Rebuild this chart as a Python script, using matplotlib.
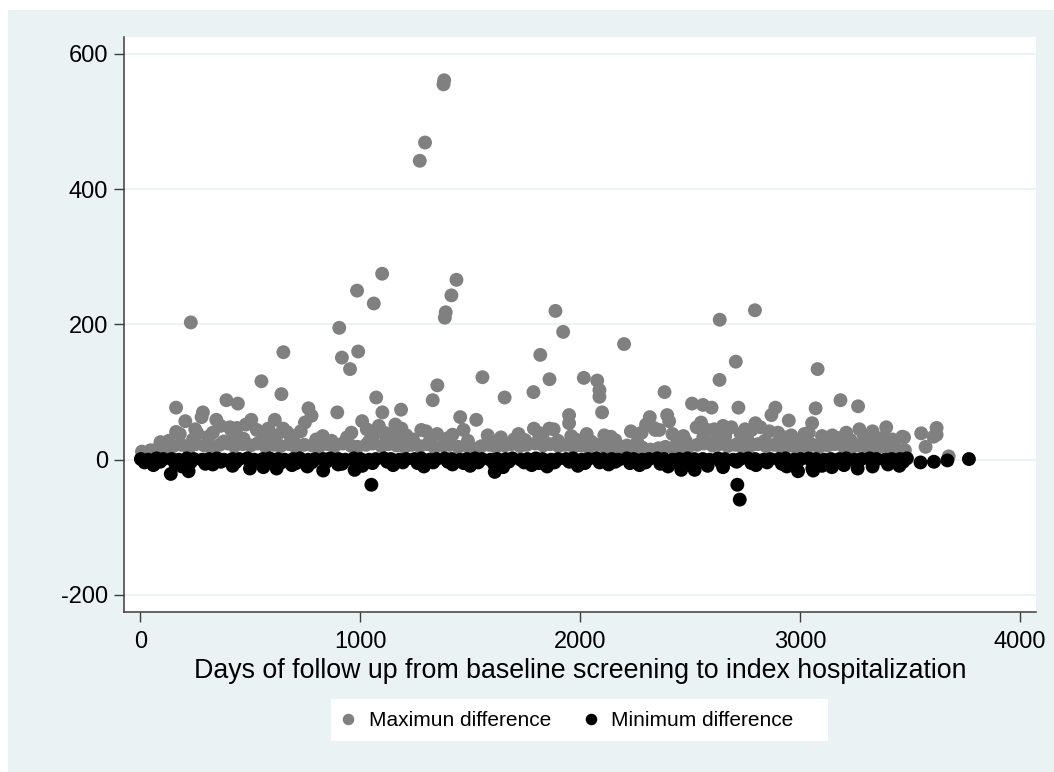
import matplotlib
matplotlib.use("Agg")
import matplotlib.pyplot as plt
from matplotlib.lines import Line2D
from matplotlib.patches import Rectangle

plt.rcParams['font.family'] = ['Liberation Sans', 'DejaVu Sans']
plt.rcParams['axes.unicode_minus'] = False

# ---------------- data ----------------
# Maximum difference: dense band
max_band_days = [8, 47, 79, 118, 149, 188, 221, 253, 292, 324,
                 361, 397, 428, 466, 502, 533, 571, 607, 638, 677,
                 709, 746, 782, 813, 852, 884, 921, 957, 988, 1027,
                 1058, 1097, 1129, 1166, 1202, 1233, 1271, 1306, 1338, 1377,
                 1408, 1446, 1482, 1513, 1551, 1587, 1618, 1657, 1688, 1727,
                 1758, 1796, 1832, 1863, 1902, 1933, 1971, 2007, 2038, 2077,
                 2108, 2146, 2182, 2213, 2252, 2283, 2321, 2357, 2388, 2427,
                 2458, 2496, 2532, 2563, 2602, 2633, 2671, 2707, 2738, 2777,
                 2808, 2846, 2882, 2913, 2952, 2983, 3021, 3057, 3088, 3127,
                 3158, 3196, 3232, 3263, 3302, 3333, 3371, 3407, 3438, 3477]
max_band_diff = [12, 14, 16, 18, 20, 22, 17, 23, 21, 19,
                 22, 24, 20, 23, 21, 24, 19, 22, 20, 23,
                 18, 22, 21, 19, 23, 20, 24, 21, 19, 22,
                 24, 20, 23, 21, 19, 22, 20, 23, 18, 21,
                 22, 19, 21, 17, 20, 22, 19, 21, 23, 20,
                 22, 24, 21, 23, 20, 22, 19, 21, 18, 22,
                 20, 17, 19, 21, 16, 18, 15, 17, 19, 16,
                 18, 20, 22, 24, 21, 23, 20, 22, 19, 21,
                 23, 20, 22, 19, 21, 18, 20, 22, 19, 21,
                 23, 20, 18, 21, 19, 17, 20, 18, 16, 14]
max_upper_days = [130, 240, 310, 380, 470, 560, 620, 700, 800, 870,
                  940, 1040, 1120, 1180, 1240, 1320, 1400, 1490, 1600, 1700,
                  1750, 1830, 1900, 1980, 2050, 2160, 2260, 2440, 2480, 2560,
                  2620, 2660, 2760, 2840, 2930, 3000, 3110, 3180, 3230, 3310,
                  3420]
max_upper_diff = [28, 30, 34, 27, 31, 29, 35, 26, 30, 28,
                  33, 27, 31, 29, 30, 26, 32, 28, 27, 30,
                  29, 31, 28, 30, 27, 29, 26, 24, 28, 33,
                  30, 35, 31, 28, 33, 27, 30, 32, 29, 26,
                  30]
max_mid_days = [180, 250, 330, 365, 430, 480, 530, 590, 680, 730,
                830, 960, 1030, 1140, 1160, 1210, 1300, 1420, 1470, 1580,
                1640, 1720, 1810, 1880, 1960, 2030, 2140, 2280, 2300, 2360,
                2420, 2470, 2550, 2610, 2650, 2730, 2780, 2820, 2860, 2960,
                3020, 3100, 3210, 3290, 3330, 3380]
max_mid_diff = [38, 45, 40, 50, 36, 52, 44, 40, 37, 42,
                35, 40, 45, 38, 52, 36, 42, 37, 44, 36,
                33, 38, 40, 45, 35, 38, 34, 40, 52, 44,
                38, 35, 55, 45, 50, 38, 44, 48, 42, 36,
                38, 35, 40, 36, 42, 33]
max_out_days = [230, 905, 986, 1062, 1100, 1271, 1295, 1382, 1379, 1385,
                1389, 1415, 1438, 1888, 1923, 2200, 2635, 2795, 163, 205,
                260, 285, 163, 392, 444, 346, 413, 551, 505, 612,
                642, 651, 667, 765, 749, 896, 917, 954, 991, 1073,
                1009, 1101, 1186, 1330, 1351, 1278, 1455, 1528, 1556, 1657,
                1788, 1819, 1861, 1950, 1950, 2017, 2078, 2088, 2088, 2100,
                2110, 2231, 2384, 2317, 2396, 2342, 2509, 2559, 2598, 2634,
                2708, 2720, 2797, 2888, 2870, 2949, 3071, 3080, 3055, 3184,
                3264, 3270, 3392, 3465, 3551, 3621, 3621, 3676, 279, 408,
                440, 582, 650, 779, 1188, 1350, 1790, 1860, 2405, 2336,
                2530, 2580, 2688, 2750, 2900, 3147, 3040, 3351, 3571, 3607,
                3473, 1085, 1110, 1060, 92]
max_out_diff = [203, 195, 250, 231, 275, 442, 469, 561, 555, 210,
                218, 243, 266, 220, 189, 171, 207, 221, 77, 57,
                39, 70, 41, 88, 83, 59, 44, 116, 59, 59,
                97, 159, 41, 76, 55, 70, 151, 134, 160, 92,
                57, 70, 74, 88, 110, 44, 63, 59, 122, 92,
                100, 155, 119, 66, 54, 121, 117, 103, 93, 70,
                36, 42, 100, 63, 66, 44, 83, 81, 77, 118,
                145, 77, 54, 77, 66, 58, 76, 134, 54, 88,
                79, 45, 48, 34, 39, 47, 37, 5, 63, 48,
                47, 46, 46, 65, 46, 38, 46, 46, 57, 47,
                48, 44, 48, 45, 40, 36, 40, 31, 19, 34,
                33, 50, 40, 35, 26]

# Minimum difference
min_a_days = [3, 36, 74, 105, 143, 175, 212, 244, 281, 312,
              350, 381, 419, 450, 488, 519, 557, 588, 626, 657,
              695, 726, 764, 795, 833, 864, 902, 933, 971, 1002,
              1040, 1071, 1109, 1140, 1178, 1209, 1247, 1278, 1316, 1347,
              1385, 1416, 1454, 1485, 1523, 1554, 1592, 1623, 1661, 1692,
              1730, 1761, 1799, 1830, 1868, 1899, 1937, 1968, 2006, 2037,
              2075, 2106, 2144, 2175, 2213, 2244, 2282, 2313, 2351, 2382,
              2420, 2451, 2489, 2520, 2558, 2589, 2627, 2658, 2696, 2727,
              2765, 2796, 2834, 2865, 2903, 2934, 2972, 3003, 3041, 3072,
              3110, 3141, 3179, 3210, 3248, 3279, 3317, 3348, 3386, 3417,
              3455, 3486]
min_a_diff = [1, 0, 2, 1, 1, 0, 2, 1, 0, 1,
              2, 0, 1, 1, 2, 0, 1, 2, 1, 0,
              1, 2, 0, 1, 1, 2, 1, 0, 2, 1,
              0, 1, 2, 1, 0, 1, 1, 2, 0, 1,
              2, 1, 0, 1, 2, 1, 0, 1, 1, 2,
              0, 1, 2, 1, 0, 1, 1, 2, 0, 1,
              2, 1, 1, 0, 2, 1, 0, 1, 2, 1,
              0, 1, 2, 1, 1, 0, 2, 1, 0, 1,
              2, 1, 0, 1, 1, 2, 0, 1, 2, 1,
              0, 1, 1, 2, 0, 1, 2, 1, 0, 1,
              1, 2]
min_b_days = [20, 91, 158, 229, 296, 367, 433, 504, 571, 642,
              709, 780, 847, 918, 985, 1056, 1123, 1194, 1261, 1332,
              1399, 1470, 1537, 1608, 1675, 1746, 1813, 1884, 1951, 2022,
              2089, 2160, 2227, 2298, 2365, 2436, 2503, 2574, 2641, 2712,
              2779, 2850, 2917, 2988, 3055, 3126, 3193, 3264, 3331, 3402,
              3469]
min_b_diff = [-4, -3, -5, -4, -6, -3, -4, -5, -3, -4,
              -5, -4, -3, -6, -4, -5, -3, -4, -5, -4,
              -3, -5, -4, -6, -3, -4, -5, -4, -3, -5,
              -4, -3, -5, -4, -6, -3, -4, -5, -4, -3,
              -5, -4, -6, -3, -4, -5, -4, -3, -5, -4,
              -3]
min_c_days = [60, 190, 330, 420, 560, 690, 760, 900, 1010, 1150,
              1290, 1420, 1500, 1650, 1780, 1850, 1990, 2130, 2270, 2400,
              2580, 2650, 2800, 2940, 3100, 3200, 3330, 3400]
min_c_diff = [-8, -10, -7, -9, -11, -8, -10, -7, -9, -8,
              -10, -7, -9, -11, -8, -10, -9, -7, -8, -10,
              -9, -11, -8, -10, -9, -8, -10, -7]
min_out_days = [139, 220, 499, 620, 832, 975, 1051, 1612, 2460, 2521,
                2715, 2726, 2991, 3056, 3060, 3145, 3262, 3452, 3548, 3609,
                3670, 3768]
min_out_diff = [-21, -17, -13, -13, -16, -15, -37, -18, -15, -15,
                -37, -59, -17, -13, -16, -11, -13, -9, -4, -3,
                -1, 1]

max_days = max_band_days + max_upper_days + max_mid_days + max_out_days
max_diff = max_band_diff + max_upper_diff + max_mid_diff + max_out_diff
min_days = min_a_days + min_b_days + min_c_days + min_out_days
min_diff = min_a_diff + min_b_diff + min_c_diff + min_out_diff

x_ticks = [0, 1000, 2000, 3000, 4000]
y_ticks = [-200, 0, 200, 400, 600]
series_labels = ["Maximun difference", "Minimum difference"]
x_title = "Days of follow up from baseline screening to index hospitalization"

# ---------------- styling ----------------
BG = '#eaf2f3'
GRAY = '#808080'
AXC = '#3c3c3c'
W, H = 1054, 772

fig = plt.figure(figsize=(W / 100, H / 100), dpi=100)
fig.patch.set_facecolor('white')
fig.add_artist(Rectangle((8 / W, 0), 1 - 8 / W, 1 - 10 / H, transform=fig.transFigure,
                         facecolor=BG, edgecolor='none', zorder=-10))

left, right, top, bottom = 123.5, 1036, 37, 611.7
ax = fig.add_axes([left / W, 1 - bottom / H, (right - left) / W, (bottom - top) / H])
ax.set_facecolor('white')

ax.scatter(max_days, max_diff, s=100, c=GRAY, edgecolors='none', zorder=3)
ax.scatter(min_days, min_diff, s=100, c='black', edgecolors='none', zorder=4)

ax.set_xlim(-76, 4073)
ax.set_ylim(-224.7, 625)
ax.set_xticks(x_ticks)
ax.set_yticks(y_ticks)
ax.set_xticklabels([str(v) for v in x_ticks])
ax.set_yticklabels([str(v) for v in y_ticks])

for s in ['top', 'right']:
    ax.spines[s].set_visible(False)
for s in ['left', 'bottom']:
    ax.spines[s].set_color(AXC)
    ax.spines[s].set_linewidth(1.1)

ax.tick_params(axis='both', direction='out', length=7.2, width=1.0, color=AXC,
               labelsize=17, labelcolor='black')
ax.tick_params(axis='x', pad=7)
ax.tick_params(axis='y', pad=4)
ax.set_axisbelow(True)
ax.yaxis.grid(True, color=BG, linewidth=1.3)
ax.xaxis.grid(False)

ax.set_xlabel(x_title, fontsize=19.3, labelpad=3.6)

# legend box
lb_x0, lb_x1, lb_y0, lb_y1 = 331, 828, 699, 741
fig.add_artist(Rectangle((lb_x0 / W, 1 - lb_y1 / H), (lb_x1 - lb_x0) / W, (lb_y1 - lb_y0) / H,
                         transform=fig.transFigure, facecolor='white', edgecolor='none', zorder=1))
handles = [Line2D([], [], linestyle='none', marker='o', markersize=8.3, color=GRAY, markeredgewidth=0),
           Line2D([], [], linestyle='none', marker='o', markersize=8.3, color='black', markeredgewidth=0)]
leg = fig.legend(handles, series_labels, ncol=2, frameon=False, fontsize=15,
                 loc='center left', bbox_to_anchor=(337.5 / W, 1 - 720.5 / H),
                 handlelength=1.0, handletextpad=0.5, columnspacing=1.4, borderpad=0,
                 borderaxespad=0)
leg.set_zorder(5)

fig.savefig('out.png', dpi=100, facecolor=fig.get_facecolor())
